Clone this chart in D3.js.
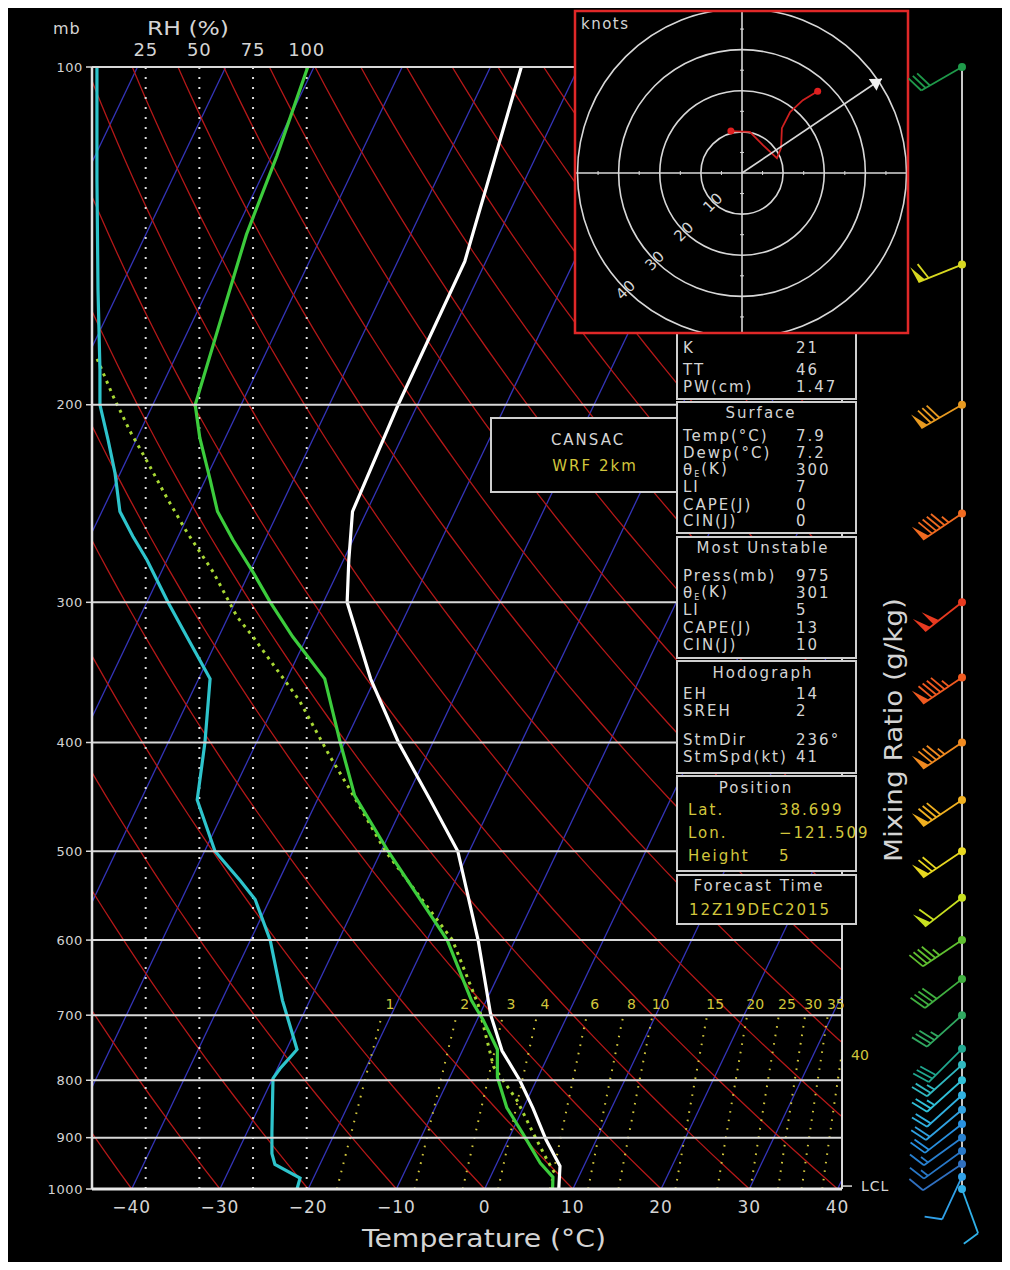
<!DOCTYPE html>
<html><head><meta charset="utf-8">
<script src="https://cdn.jsdelivr.net/npm/d3@7"></script>
<style>body{margin:0;background:#fff}svg{display:block}</style>
</head><body>
<svg id="c" width="1010" height="1270"></svg>
<script>
// ---------------- DATA ----------------
const pressureTicks = [100,200,300,400,500,600,700,800,900,1000];
const tempTicks = [-40,-30,-20,-10,0,10,20,30,40];
const rhTicks = [25,50,75,100];
const mixingRatios = [1,2,3,4,6,8,10,15,20,25,30,35,40];

const tempP = [100,149,200,249,275,300,351,400,450,500,600,700,753,800,847,904,954,1000];
const tempT = [-56.5,-52.4,-52.2,-51.6,-49.4,-47.3,-40.5,-33.9,-27.2,-21.3,-14.2,-8.7,-5.5,-1.9,1.1,4.3,7.3,8.4];

const dewP = [100,120,141,200,214,233,249,264,282,300,322,351,400,446,500,600,679,707,751,795,846,892,948,976,1000];
const dewT = [-80.7,-79.4,-78.6,-75.2,-72.9,-69.5,-66.9,-63.6,-59.6,-56.0,-51.6,-45.7,-40.5,-36.0,-29.2,-17.7,-11.7,-9.3,-6.1,-4.6,-1.9,1.3,4.9,7.1,7.7];

const parcelP = [182,196,211,225,242,260,282,309,322,367,411,441,500,600,685,778,834,892,942,975];
const parcelT = [-88.8,-85.1,-81.2,-77.5,-73.4,-69.2,-64.1,-59.0,-56.1,-47.4,-41.0,-36.8,-29.5,-17.1,-10.7,-5.6,-1.1,2.5,5.5,7.5];

const rhP = [100,126,158,186,200,215,230,249,262,275,300,322,351,400,450,500,531,552,600,679,751,763,781,797,891,930,951,978,1000];
const rhV = [2.3,2.3,2.8,3.7,3.7,7.5,10.7,13,19,25.6,35.4,44.2,55,52.6,49,57.3,69,76,83,88.7,95.5,92.3,87.6,84.3,83.8,83.8,85.2,96.9,95.5];

const windP   = [100,150,200,250,300,350,400,450,500,550,600,650,700,750,775,800,825,850,875,900,925,950,975,1000];
const windDir = [240,248,240,236,232,236,236,236,236,232,236,232,228,225,228,228,228,230,232,234,234,236,205,160];
const windSpd = [30,60,80,95,100,95,85,80,70,60,45,40,35,30,25,25,20,20,20,15,15,10,10,10];
const windColor = ['#1f9a4a','#d8d820','#e89a20','#f06a20','#e83a20','#f05a20','#f08a20','#f0b020','#e8d820','#c8e020','#60c030','#40b040','#30a860','#20a890','#30b8c0','#30c0d8','#30b0e0','#30a0e0','#2890e0','#2880d0','#2878c8','#3070c0','#30a0e8','#30b0e8'];

const hodoU = [-2.7,1.9,5.1,8.5,9.5,9.7,11.7,14.8,18.4];
const hodoV = [10.2,10.0,6.8,3.6,6.1,10.9,14.8,17.7,19.9];
const hodoRings = [10,20,30,40];
const stormDir = 236, stormSpd = 41;
const lclPressure = 994;

const indexLabels = ['K','TT','PW(cm)'];
const indexValues = ['21','46','1.47'];
const surfaceLabels = ['Temp(°C)','Dewp(°C)','θE(K)','LI','CAPE(J)','CIN(J)'];
const surfaceValues = ['7.9','7.2','300','7','0','0'];
const muLabels = ['Press(mb)','θE(K)','LI','CAPE(J)','CIN(J)'];
const muValues = ['975','301','5','13','10'];
const hodoLabels = ['EH','SREH','StmDir','StmSpd(kt)'];
const hodoValues = ['14','2','236°','41'];
const posLabels = ['Lat.','Lon.','Height'];
const posValues = ['38.699','−121.509','5'];
const forecastTime = '12Z19DEC2015';

// ---------------- SETUP ----------------
const svg = d3.select('#c');
const L=92,R=842,T=67,B=1189, SKEW=0.477;
const y = d3.scaleLog().domain([100,1000]).range([T,B]);
const xT = d3.scaleLinear().domain([-44.5,40.5]).range([L,R]);
const X = (t,p) => xT(t) + SKEW*(B - y(p));
const rhX = d3.scaleLinear().domain([0,100]).range([L,306.7]);
const FONT = "'DejaVu Sans', sans-serif";
const GREY = '#d4d4d4', YEL = '#d2c63c';

svg.append('rect').attr('x',8).attr('y',8).attr('width',994).attr('height',1254).attr('fill','#000');

const defs = svg.append('defs');
defs.append('clipPath').attr('id','plotclip').append('rect').attr('x',L).attr('y',T).attr('width',R-L).attr('height',B-T);
const plot = svg.append('g').attr('clip-path','url(#plotclip)');

// isotherms
d3.range(-180,50,10).forEach(t=>{
  plot.append('line').attr('x1',X(t,1000)).attr('y1',y(1000)).attr('x2',X(t,100)).attr('y2',y(100))
    .attr('stroke','#3434b8').attr('stroke-width',1.3);
});
// dry adiabats
const pLog = d3.range(0,61).map(i=>1000*Math.pow(0.1,i/60));
const lineTP = d3.line().x(d=>X(d[1],d[0])).y(d=>y(d[0]));
d3.range(233.15,500,10).forEach(th=>{
  const pts = pLog.map(p=>[p, th*Math.pow(p/1000,0.2857)-273.15]);
  plot.append('path').attr('d',lineTP(pts)).attr('fill','none').attr('stroke','#b41818').attr('stroke-width',1.3);
});
// mixing ratio lines (saturation temperature for mixing ratio w at pressure p, chart's own calibration)
function tmix(w,p){ const e=w*p/(622+w); const a=Math.log(e/6.112); return (243.5*a/(17.67-a))*1.03+0.9; }
const mrP = d3.range(0,21).map(i=>1000*Math.pow(0.7,i/20));
mixingRatios.forEach(w=>{
  const pts = mrP.map(p=>[p,tmix(w,p)]);
  plot.append('path').attr('d',lineTP(pts)).attr('fill','none').attr('stroke',YEL)
    .attr('stroke-width',2).attr('stroke-dasharray','1.6,7');
});
// RH dotted
rhTicks.forEach(r=>{
  plot.append('line').attr('x1',rhX(r)).attr('x2',rhX(r)).attr('y1',T).attr('y2',B)
    .attr('stroke','#dcdcdc').attr('stroke-width',2).attr('stroke-dasharray','2,8');
});
// isobars
pressureTicks.forEach(p=>{
  svg.append('line').attr('x1',L).attr('x2',R).attr('y1',y(p)).attr('y2',y(p)).attr('stroke','#d8d8d8').attr('stroke-width',2);
  svg.append('line').attr('x1',L-6).attr('x2',L).attr('y1',y(p)).attr('y2',y(p)).attr('stroke','#d8d8d8').attr('stroke-width',1.5);
  svg.append('text').attr('x',L-9).attr('y',y(p)).attr('dy','0.36em').attr('text-anchor','end')
    .attr('font-family',FONT).attr('font-size',13).attr('letter-spacing',0.6).attr('fill',GREY).text(p);
});
// frame
svg.append('line').attr('x1',L).attr('x2',L).attr('y1',T).attr('y2',B).attr('stroke','#e0e0e0').attr('stroke-width',2.5);
svg.append('line').attr('x1',R).attr('x2',R).attr('y1',T).attr('y2',B).attr('stroke','#d8d8d8').attr('stroke-width',2);
svg.append('line').attr('x1',L).attr('x2',R).attr('y1',B).attr('y2',B).attr('stroke','#e8e8e8').attr('stroke-width',3);

// mixing ratio labels
mixingRatios.forEach(w=>{
  const xt = X(tmix(w,700),700);
  if (xt < R-12) {
    svg.append('text').attr('x',xt+8).attr('y',y(684)).attr('dy','0.36em').attr('text-anchor','middle')
      .attr('font-family',FONT).attr('font-size',14).attr('fill',YEL).text(w);
  } else {
    svg.append('text').attr('x',R+18).attr('y',y(760)).attr('dy','0.36em').attr('text-anchor','middle')
      .attr('font-family',FONT).attr('font-size',14).attr('fill',YEL).text(w);
  }
});

// profiles
const zipP = (P,V)=>P.map((p,i)=>[p,V[i]]);
plot.append('path').attr('d',lineTP(zipP(parcelP,parcelT))).attr('fill','none').attr('stroke','#a8d834')
  .attr('stroke-width',3).attr('stroke-dasharray','3,5');
plot.append('path').attr('d',d3.line().x(d=>rhX(d[1])).y(d=>y(d[0]))(zipP(rhP,rhV))).attr('fill','none')
  .attr('stroke','#2ec4cc').attr('stroke-width',3.2);
plot.append('path').attr('d',lineTP(zipP(dewP,dewT))).attr('fill','none').attr('stroke','#3ccc3c').attr('stroke-width',3.2);
plot.append('path').attr('d',lineTP(zipP(tempP,tempT))).attr('fill','none').attr('stroke','#ffffff').attr('stroke-width',3.2);

// LCL
svg.append('line').attr('x1',R).attr('x2',R+10).attr('y1',y(lclPressure)).attr('y2',y(lclPressure)).attr('stroke','#d8d8d8').attr('stroke-width',1.5);
svg.append('text').attr('x',R+19).attr('y',y(lclPressure)).attr('dy','0.36em').attr('font-family',FONT).attr('font-size',14).attr('letter-spacing',1).attr('fill',GREY).text('LCL');

// axis texts
tempTicks.forEach(t=>{
  svg.append('text').attr('x',xT(t)).attr('y',1207).attr('dy','0.36em').attr('text-anchor','middle')
    .attr('font-family',FONT).attr('font-size',17).attr('letter-spacing',1).attr('fill',GREY).text(t<0?'−'+Math.abs(t):t);
});
svg.append('text').attr('x',484).attr('y',1238).attr('dy','0.36em').attr('text-anchor','middle')
  .attr('font-family',FONT).attr('font-size',24).attr('fill',GREY)
  .attr('textLength',244).attr('lengthAdjust','spacingAndGlyphs').text('Temperature (°C)');
svg.append('text').attr('transform','translate(893,730) rotate(-90)').attr('dy','0.36em').attr('text-anchor','middle')
  .attr('font-family',FONT).attr('font-size',24).attr('fill',GREY)
  .attr('textLength',264).attr('lengthAdjust','spacingAndGlyphs').text('Mixing Ratio (g/kg)');
rhTicks.forEach(r=>{
  svg.append('text').attr('x',rhX(r)).attr('y',50).attr('dy','0.36em').attr('text-anchor','middle')
    .attr('font-family',FONT).attr('font-size',18).attr('letter-spacing',0.8).attr('fill',GREY).text(r);
});
svg.append('text').attr('x',188).attr('y',28).attr('dy','0.36em').attr('text-anchor','middle')
  .attr('font-family',FONT).attr('font-size',19).attr('fill',GREY)
  .attr('textLength',82).attr('lengthAdjust','spacingAndGlyphs').text('RH (%)');
svg.append('text').attr('x',53).attr('y',28).attr('dy','0.36em')
  .attr('font-family',FONT).attr('font-size',16).attr('letter-spacing',1).attr('fill',GREY).text('mb');

// ---------------- BOXES ----------------
function box(x0,y0,x1,y1){
  svg.append('rect').attr('x',x0).attr('y',y0).attr('width',x1-x0).attr('height',y1-y0)
    .attr('fill','#000').attr('stroke','#cfcfcf').attr('stroke-width',2);
}
function label(x,yy,s,col,anchor){
  const t = svg.append('text').attr('x',x).attr('y',yy).attr('dy','0.36em').attr('font-family',FONT)
    .attr('font-size',15).attr('letter-spacing',2).attr('fill',col||GREY).attr('text-anchor',anchor||'start');
  if (s.startsWith('θE')) {
    t.append('tspan').text('θ');
    t.append('tspan').attr('font-size',8).attr('dy','0.2em').text('E');
    t.append('tspan').attr('dy','-0.2em').text(s.slice(2));
  } else t.text(s);
  return t;
}
box(491,418,677,492);
label(588,440,'CANSAC',GREY,'middle');
label(595,466,'WRF  2km',YEL,'middle');

const BX0=677, BX1=856, LX=683, VX=796;
box(BX0,332,BX1,399);
[348,370,387].forEach((yy,i)=>{ label(LX,yy,indexLabels[i]); label(VX,yy,indexValues[i]); });
box(BX0,402,BX1,533);
label(761,413,'Surface',GREY,'middle');
[436,453,470,487,505,521].forEach((yy,i)=>{ label(LX,yy,surfaceLabels[i]); label(VX,yy,surfaceValues[i]); });
box(BX0,537,BX1,658);
label(763,548,'Most Unstable',GREY,'middle');
[576,593,610,628,645].forEach((yy,i)=>{ label(LX,yy,muLabels[i]); label(VX,yy,muValues[i]); });
box(BX0,661,BX1,773);
label(763,673,'Hodograph',GREY,'middle');
[694,711,740,757].forEach((yy,i)=>{ label(LX,yy,hodoLabels[i]); label(VX,yy,hodoValues[i]); });
box(BX0,776,BX1,871);
label(756,788,'Position',GREY,'middle');
[810,833,856].forEach((yy,i)=>{ label(688,yy,posLabels[i],YEL); label(779,yy,posValues[i],YEL); });
box(BX0,875,BX1,924);
label(759,886,'Forecast Time',GREY,'middle');
label(689,910,forecastTime,YEL);

// ---------------- HODOGRAPH ----------------
const HX0=575,HY0=11,HX1=908,HY1=333, HCX=742, HCY=173;
svg.append('rect').attr('x',HX0).attr('y',HY0).attr('width',HX1-HX0).attr('height',HY1-HY0).attr('fill','#000');
defs.append('clipPath').attr('id','hodoclip').append('rect').attr('x',HX0).attr('y',HY0).attr('width',HX1-HX0).attr('height',HY1-HY0);
const hg = svg.append('g').attr('clip-path','url(#hodoclip)');
const kt = d3.scaleLinear().domain([0,40]).range([0,164.5]);
hodoRings.forEach(r=>{
  hg.append('circle').attr('cx',HCX).attr('cy',HCY).attr('r',kt(r)).attr('fill','none').attr('stroke','#d8d8d8').attr('stroke-width',1.6);
});
hg.append('line').attr('x1',HX0).attr('x2',HX1).attr('y1',HCY).attr('y2',HCY).attr('stroke','#d8d8d8').attr('stroke-width',1.6);
hg.append('line').attr('x1',HCX).attr('x2',HCX).attr('y1',HY0).attr('y2',HY1).attr('stroke','#d8d8d8').attr('stroke-width',1.6);
[5,15,25,35].forEach(k=>{
  [-1,1].forEach(s=>{
    hg.append('line').attr('x1',HCX+s*kt(k)).attr('x2',HCX+s*kt(k)).attr('y1',HCY-2).attr('y2',HCY+2).attr('stroke','#d8d8d8');
    hg.append('line').attr('y1',HCY+s*kt(k)).attr('y2',HCY+s*kt(k)).attr('x1',HCX-2).attr('x2',HCX+2).attr('stroke','#d8d8d8');
  });
});
hodoRings.forEach(r=>{
  const px = HCX - kt(r)*Math.SQRT1_2, py = HCY + kt(r)*Math.SQRT1_2;
  hg.append('text').attr('transform',`translate(${px},${py}) rotate(-45)`).attr('dy','0.36em').attr('text-anchor','middle')
    .attr('font-family',FONT).attr('font-size',15).attr('letter-spacing',1).attr('fill',GREY).text(r);
});
const hodoPts = hodoU.map((u,i)=>[HCX+kt(u), HCY-kt(hodoV[i])]);
hg.append('path').attr('d',d3.line()(hodoPts)).attr('fill','none').attr('stroke','#d02020').attr('stroke-width',1.8);
[hodoPts[0],hodoPts[hodoPts.length-1]].forEach(p=>hg.append('circle').attr('cx',p[0]).attr('cy',p[1]).attr('r',3.5).attr('fill','#e02020'));
// storm motion arrow
const toward = (stormDir+180)*Math.PI/180;
const sx = HCX + kt(stormSpd*Math.sin(toward)), sy = HCY - kt(stormSpd*Math.cos(toward));
hg.append('line').attr('x1',HCX).attr('y1',HCY).attr('x2',sx).attr('y2',sy).attr('stroke','#d8d8d8').attr('stroke-width',1.6);
{
  const ang = Math.atan2(sy-HCY, sx-HCX);
  const a1 = ang+Math.PI*0.82, a2 = ang-Math.PI*0.82, hl=13;
  hg.append('path').attr('d',`M${sx},${sy}L${sx+hl*Math.cos(a1)},${sy+hl*Math.sin(a1)}L${sx+hl*Math.cos(a2)},${sy+hl*Math.sin(a2)}Z`).attr('fill','#f0f0f0');
}
svg.append('text').attr('x',581).attr('y',24).attr('dy','0.36em').attr('font-family',FONT).attr('font-size',15).attr('letter-spacing',1.5).attr('fill',GREY).text('knots');
svg.append('rect').attr('x',HX0).attr('y',HY0).attr('width',HX1-HX0).attr('height',HY1-HY0).attr('fill','none').attr('stroke','#e02828').attr('stroke-width',2.5);

// ---------------- WIND BARBS ----------------
const WX = 962;
svg.append('line').attr('x1',WX).attr('x2',WX).attr('y1',y(100)).attr('y2',y(1000)).attr('stroke','#c8c8c8').attr('stroke-width',2);
function barb(px,py,dir,spd,col){
  const g = svg.append('g');
  const r = dir*Math.PI/180, dx=Math.sin(r), dy=-Math.cos(r);
  const nx=-dy, ny=dx;
  const Ls=47, F=17, pt=s=>[px+dx*s, py+dy*s];
  const e = pt(Ls);
  g.append('line').attr('x1',px).attr('y1',py).attr('x2',e[0]).attr('y2',e[1]).attr('stroke',col).attr('stroke-width',1.8);
  let v = Math.round(spd/5)*5, s=Ls;
  const n50=Math.floor(v/50); v-=n50*50; const n10=Math.floor(v/10); v-=n10*10; const n5=v>=5?1:0;
  for(let i=0;i<n50;i++){
    const a=pt(s), b=pt(s-7);
    g.append('path').attr('d',`M${a[0]},${a[1]}L${a[0]+nx*F+dx*2},${a[1]+ny*F+dy*2}L${b[0]},${b[1]}Z`).attr('fill',col);
    s-=11;
  }
  if(n50===0 && n10===0 && n5) s-=6;
  for(let i=0;i<n10;i++){
    const a=pt(s);
    g.append('line').attr('x1',a[0]).attr('y1',a[1]).attr('x2',a[0]+nx*F+dx*5).attr('y2',a[1]+ny*F+dy*5).attr('stroke',col).attr('stroke-width',1.8);
    s-=5;
  }
  if(n5){
    const a=pt(s);
    g.append('line').attr('x1',a[0]).attr('y1',a[1]).attr('x2',a[0]+nx*F*0.5+dx*2.5).attr('y2',a[1]+ny*F*0.5+dy*2.5).attr('stroke',col).attr('stroke-width',1.8);
  }
  g.append('circle').attr('cx',px).attr('cy',py).attr('r',4).attr('fill',col);
}
windP.forEach((p,i)=>barb(WX,y(p),windDir[i],windSpd[i],windColor[i]));
</script>
</body></html>
